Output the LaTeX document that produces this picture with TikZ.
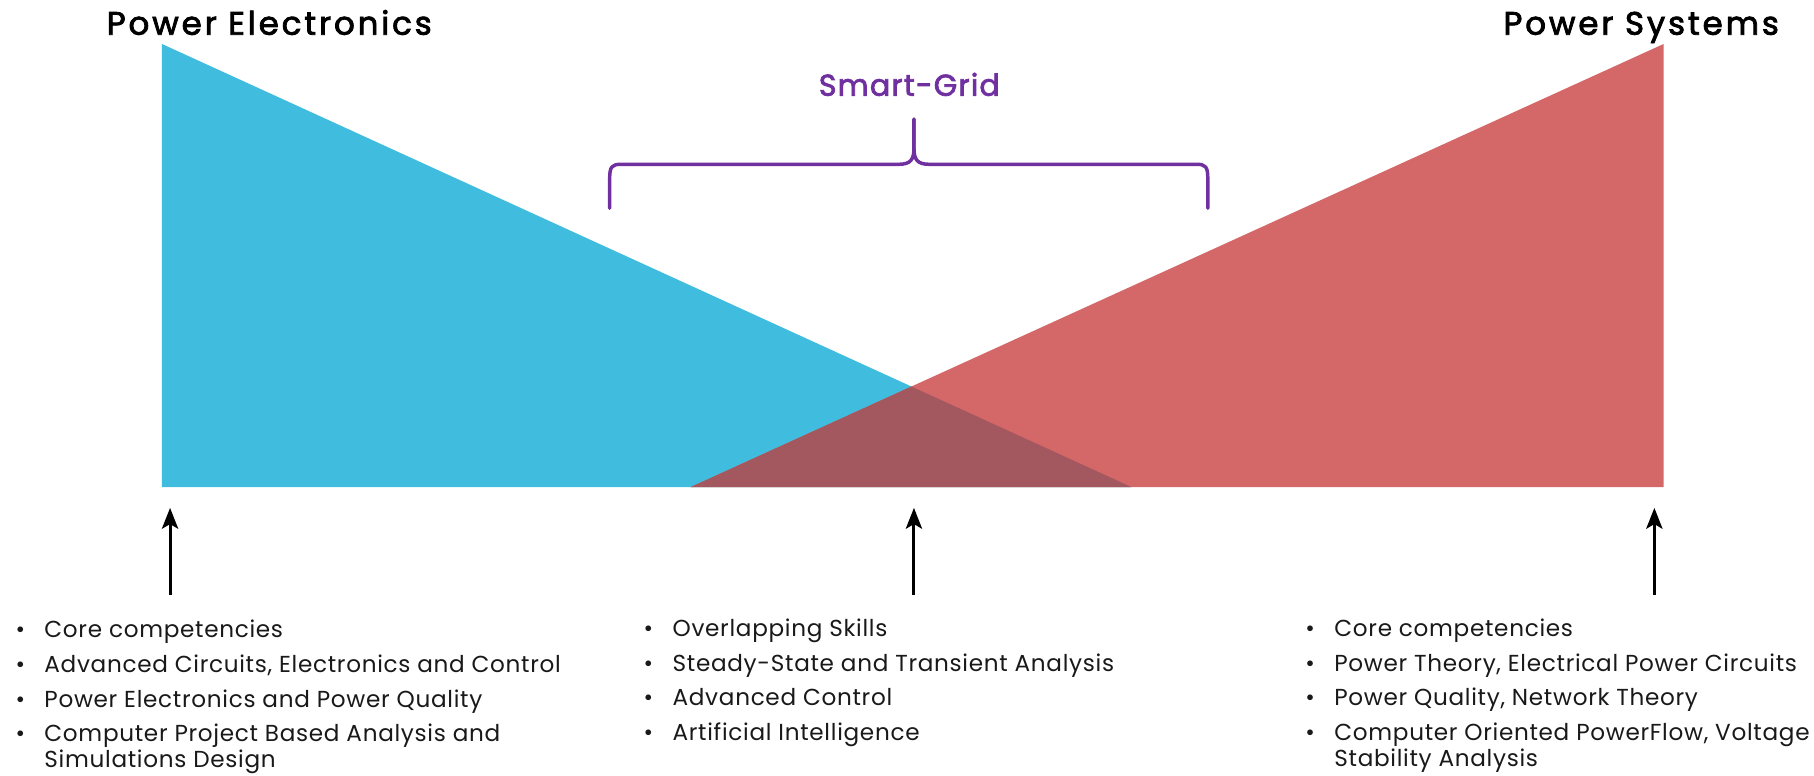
\documentclass[tikz,border=0pt]{standalone}
\usepackage{fontspec}
\setmainfont{Poppins}
\newfontfamily\titlefont{Poppins}[FakeBold=2.5, LetterSpace=9]
\newfontfamily\sgfont{Poppins}[FakeBold=2.5, LetterSpace=4]
\newfontfamily\listfont{Poppins}[LetterSpace=3]
\usetikzlibrary{arrows.meta}
\definecolor{peblue}{RGB}{64,189,222}
\definecolor{psred}{RGB}{212,104,104}
\definecolor{ovlred}{RGB}{163,87,94}
\definecolor{sgpurple}{RGB}{112,48,160}
\newcommand\bitem[1]{\textbullet & #1\\[3pt]}
\begin{document}
\begin{tikzpicture}[x=0.5pt,y=-0.5pt,
  titletext/.style={font=\titlefont\fontsize{14}{16}\selectfont, inner sep=0},
  sgtext/.style={font=\sgfont\fontsize{13}{15}\selectfont, text=sgpurple, inner sep=0},
  listtext/.style={font=\listfont\fontsize{10}{12}\selectfont, inner sep=0, anchor=north west, align=left, text=black!90},
  uparrow/.style={draw=black, line width=1.3pt, -{Stealth[length=9pt,width=7pt,inset=2pt]}},
  bracepath/.style={draw=sgpurple, line width=1.5pt, line cap=round, line join=round}]
\useasboundingbox (0,0) rectangle (1568,670);
% triangles
\coordinate (bt) at (140,38);
\coordinate (bb) at (140,421);
\coordinate (br) at (978,421);
\coordinate (rt) at (1438,38);
\coordinate (rb) at (1438,421);
\coordinate (rl) at (597,421);
\coordinate (cx) at (intersection of bt--br and rt--rl);
\fill[peblue] (bt) -- (bb) -- (br) -- cycle;
\fill[psred] (rt) -- (rb) -- (rl) -- cycle;
\fill[ovlred] (rl) -- (cx) -- (br) -- cycle;
% titles
\node[titletext, anchor=base west] (petitle) at (92,30) {Power Electronics};
\node[titletext, anchor=base east] (pstitle) at (1538,30) {Power Systems};
% smart grid brace
\node[sgtext] (sglabel) at (786,73) {Smart-Grid};
\draw[bracepath] (527,180) -- (527,154) .. controls (527,144) and (529,142) .. (537,142)
  -- (777,142) .. controls (787,142) and (790,138) .. (790,128) -- (790,103);
\draw[bracepath] (790,103) -- (790,128) .. controls (790,138) and (793,142) .. (803,142)
  -- (1034,142) .. controls (1042,142) and (1044,144) .. (1044,154) -- (1044,180);
% arrows
\coordinate (a1s) at (147,514); \coordinate (a1e) at (147,439);
\coordinate (a2s) at (790,514); \coordinate (a2e) at (790,439);
\coordinate (a3s) at (1430,514); \coordinate (a3e) at (1430,439);
\draw[uparrow] (a1s) -- (a1e);
\draw[uparrow] (a2s) -- (a2e);
\draw[uparrow] (a3s) -- (a3e);
% lists
\node[listtext] (pelist) at (13,534) {\begin{tabular}{@{}p{12.5pt}@{}l@{}}
\bitem{Core competencies}
\bitem{Advanced Circuits, Electronics and Control}
\bitem{Power Electronics and Power Quality}
\textbullet & Computer Project Based Analysis and\\[-1pt]
 & Simulations Design
\end{tabular}};
\node[listtext] (sglist) at (556,533) {\begin{tabular}{@{}p{12.5pt}@{}l@{}}
\bitem{Overlapping Skills}
\bitem{Steady-State and Transient Analysis}
\bitem{Advanced Control}
\textbullet & Artificial Intelligence
\end{tabular}};
\node[listtext] (pslist) at (1128,533) {\begin{tabular}{@{}p{12.5pt}@{}l@{}}
\bitem{Core competencies}
\bitem{Power Theory, Electrical Power Circuits}
\bitem{Power Quality, Network Theory}
\textbullet & Computer Oriented PowerFlow, Voltage\\[-1pt]
 & Stability Analysis
\end{tabular}};
\end{tikzpicture}
\end{document}
